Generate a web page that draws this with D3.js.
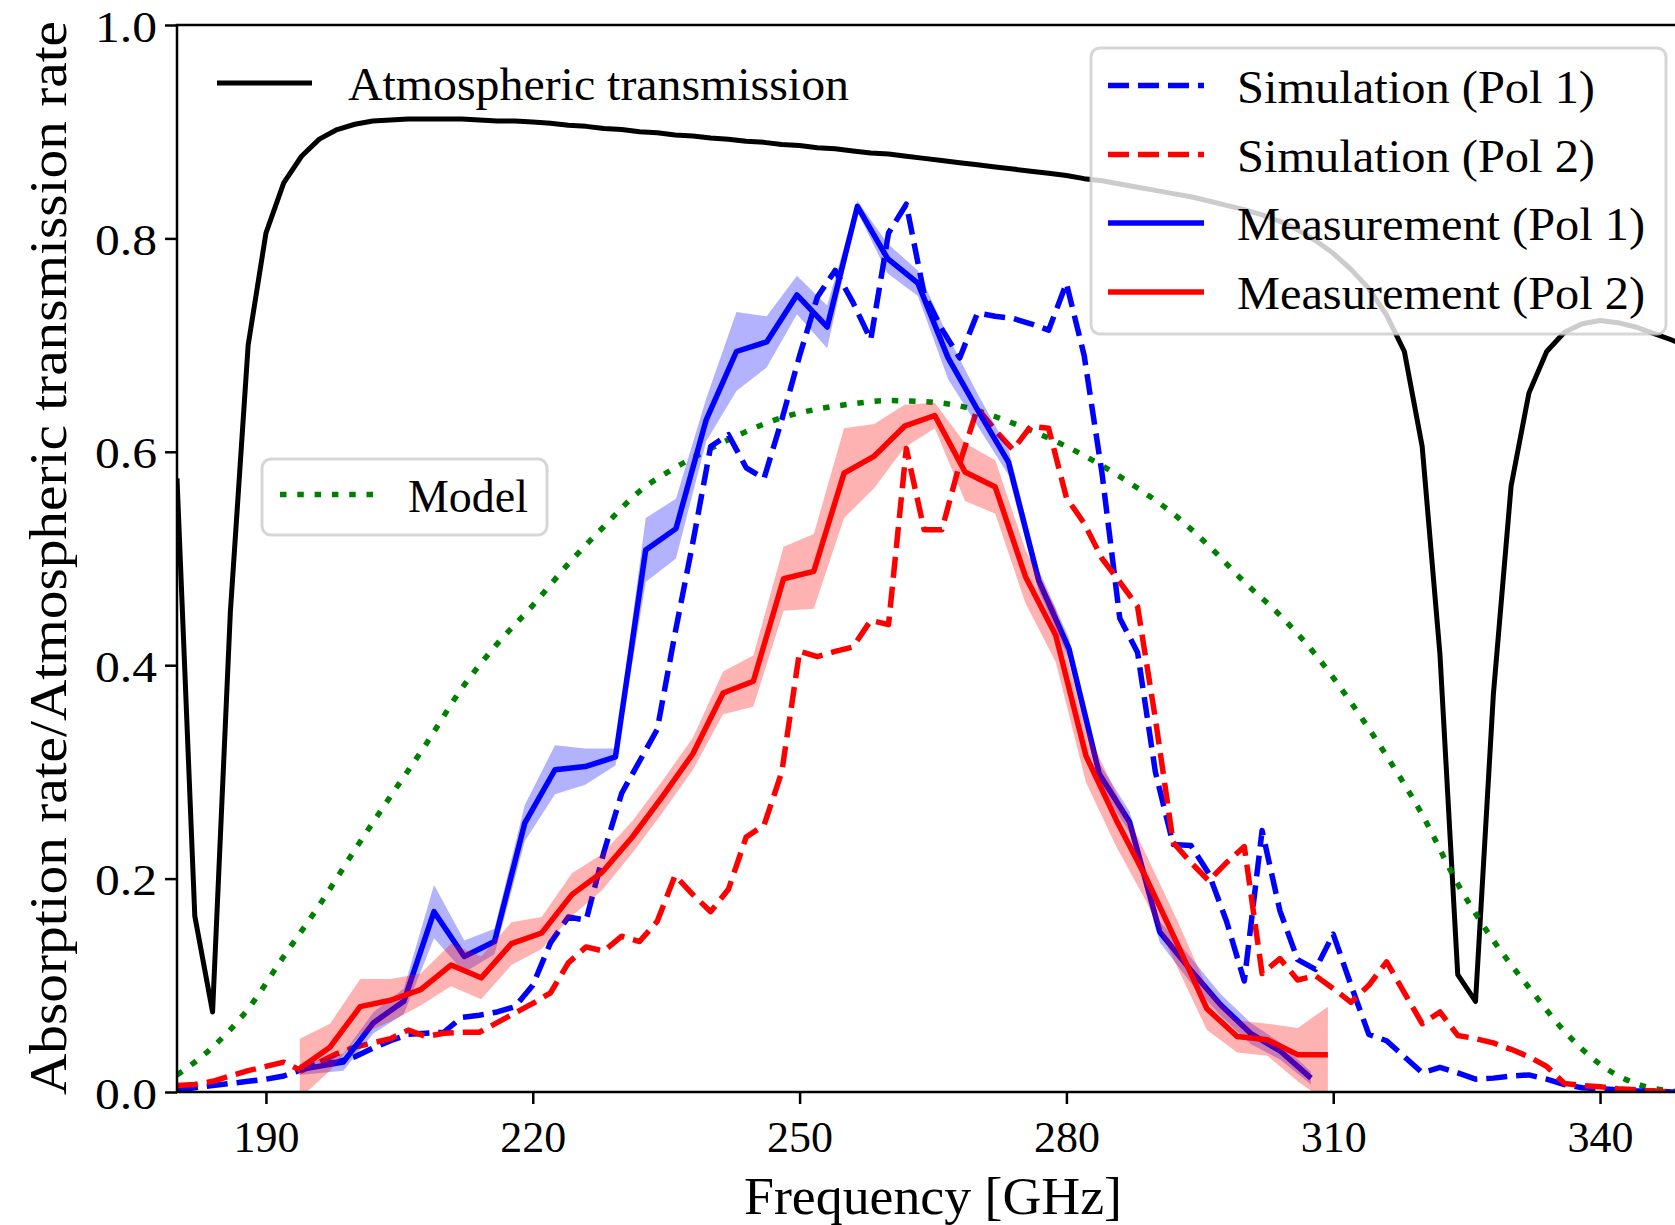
<!DOCTYPE html>
<html><head><meta charset="utf-8">
<script src="https://cdn.jsdelivr.net/npm/d3@7"></script>
<style>
body{margin:0;background:#fff}
svg{display:block}
text{font-family:"Liberation Serif","DejaVu Serif",serif;fill:#000}
</style>
</head><body>
<svg id="chart" width="1675" height="1225"></svg>
<script>
// ---------------- DATA ----------------
const freqGrid = [180,182,184,186,188,190,192,194,196,198,200,202,204,206,208,210,212,214,216,218,220,222,224,226,228,230,232,234,236,238,240,242,244,246,248,250,252,254,256,258,260,262,264,266,268,270,272,274,276,278,280,282,284,286,288,290,292,294,296,298,300,302,304,306,308,310,312,314,316,318,320,322,324,326,328,330,332,334,336,338,340,342,344,346,348,350];

const atmTransmission = [0.575,0.165,0.075,0.45,0.70,0.805,0.852,0.877,0.893,0.902,0.907,0.910,0.911,0.912,0.912,0.912,0.912,0.911,0.910,0.910,0.909,0.908,0.906,0.905,0.903,0.902,0.900,0.899,0.897,0.896,0.894,0.893,0.891,0.890,0.888,0.887,0.885,0.884,0.882,0.880,0.879,0.877,0.875,0.873,0.871,0.869,0.867,0.865,0.863,0.861,0.859,0.856,0.854,0.851,0.848,0.845,0.842,0.839,0.835,0.831,0.827,0.822,0.816,0.808,0.798,0.786,0.771,0.753,0.728,0.694,0.605,0.41,0.11,0.085,0.372,0.568,0.655,0.694,0.712,0.72,0.723,0.721,0.717,0.711,0.705,0.698];

const simPol1 = [0.002,0.004,0.006,0.008,0.010,0.012,0.015,0.021,0.027,0.028,0.033,0.041,0.048,0.054,0.055,0.056,0.070,0.072,0.075,0.080,0.100,0.140,0.164,0.161,0.225,0.280,0.310,0.340,0.430,0.515,0.605,0.616,0.585,0.575,0.630,0.690,0.745,0.770,0.740,0.705,0.805,0.832,0.748,0.715,0.688,0.730,0.727,0.725,0.720,0.714,0.758,0.690,0.580,0.444,0.412,0.300,0.232,0.231,0.205,0.160,0.104,0.245,0.170,0.124,0.115,0.148,0.100,0.054,0.048,0.033,0.018,0.023,0.018,0.012,0.013,0.015,0.016,0.012,0.007,0.004,0.003,0.002,0.001,0.001,0.000,0.000];

const simPol2 = [0.006,0.007,0.010,0.015,0.020,0.024,0.028,0.020,0.028,0.036,0.042,0.046,0.050,0.058,0.052,0.055,0.056,0.056,0.065,0.074,0.083,0.093,0.121,0.136,0.132,0.146,0.141,0.160,0.203,0.185,0.169,0.190,0.239,0.250,0.300,0.413,0.408,0.413,0.417,0.442,0.438,0.603,0.527,0.527,0.589,0.641,0.620,0.602,0.624,0.622,0.557,0.533,0.500,0.478,0.455,0.350,0.234,0.215,0.198,0.215,0.230,0.111,0.125,0.105,0.109,0.097,0.084,0.100,0.122,0.093,0.064,0.075,0.053,0.050,0.046,0.040,0.033,0.024,0.008,0.006,0.005,0.003,0.002,0.001,0.000,0.000];

const freqModel = [180,184,188,192,196,200,204,208,212,216,220,224,228,232,236,240,244,248,252,256,260,264,268,272,276,280,284,288,292,296,300,304,308,312,316,320,324,328,332,336,340,344,348,350];
const modelValues = [0.016,0.042,0.078,0.127,0.175,0.227,0.277,0.326,0.378,0.420,0.456,0.495,0.530,0.563,0.585,0.603,0.619,0.632,0.640,0.645,0.648,0.647,0.643,0.633,0.620,0.605,0.587,0.566,0.542,0.512,0.478,0.447,0.410,0.365,0.315,0.260,0.195,0.142,0.098,0.057,0.026,0.008,0.001,0.000];

const freqMeas1 = [193.8,198.7,202.1,205.5,208.9,212.3,215.7,219.1,222.5,225.9,229.3,232.7,236.1,239.5,242.9,246.3,249.7,253.1,256.5,259.9,263.3,266.7,270.1,273.5,276.9,280.3,283.7,287.1,290.5,293.9,297.3,300.7,304.1,307.5];
const measPol1 = [0.021,0.028,0.065,0.085,0.169,0.127,0.141,0.252,0.302,0.305,0.314,0.508,0.528,0.630,0.694,0.703,0.747,0.717,0.830,0.781,0.758,0.688,0.638,0.590,0.479,0.415,0.298,0.253,0.150,0.115,0.082,0.055,0.038,0.013];
const errPol1 = [0.005,0.008,0.010,0.012,0.025,0.015,0.012,0.017,0.023,0.017,0.008,0.030,0.028,0.020,0.037,0.024,0.018,0.020,0.005,0.014,0.012,0.020,0.015,0.012,0.010,0.010,0.010,0.010,0.010,0.012,0.010,0.010,0.008,0.006];

const freqMeas2 = [193.8,197.2,200.6,204.0,207.4,210.8,214.2,217.6,221.0,224.4,227.8,231.2,234.6,238.0,241.4,244.8,248.2,251.6,255.0,258.4,261.8,265.2,268.6,272.0,275.4,278.8,282.2,285.6,289.0,292.4,295.8,299.2,302.6,306.0,309.4];
const measPol2 = [0.022,0.042,0.080,0.086,0.096,0.119,0.107,0.139,0.149,0.185,0.206,0.239,0.277,0.317,0.374,0.385,0.481,0.488,0.580,0.596,0.624,0.634,0.581,0.567,0.483,0.428,0.315,0.255,0.200,0.140,0.078,0.052,0.049,0.035,0.035];
const errPol2 = [0.028,0.022,0.026,0.020,0.015,0.020,0.020,0.020,0.015,0.020,0.017,0.015,0.015,0.015,0.020,0.024,0.030,0.035,0.042,0.030,0.020,0.012,0.027,0.025,0.025,0.025,0.025,0.025,0.022,0.022,0.020,0.015,0.015,0.025,0.045];

const xTicks = [190,220,250,280,310,340];
const yTicks = [0.0,0.2,0.4,0.6,0.8,1.0];
const xLabel = "Frequency [GHz]";
const yLabel = "Absorption rate/Atmospheric transmission rate";
const legendTopLeft = ["Atmospheric transmission"];
const legendTopRight = ["Simulation (Pol 1)","Simulation (Pol 2)","Measurement (Pol 1)","Measurement (Pol 2)"];
const legendModel = ["Model"];

// ---------------- LAYOUT ----------------
const M = {left:177, top:25, right:1689, bottom:1092};
const x = d3.scaleLinear().domain([180,350]).range([M.left, M.right]);
const y = d3.scaleLinear().domain([0,1]).range([M.bottom, M.top]);

const BLUE="#0000ff", RED="#ff0000", GREEN="#008000";
const LW=5.5;
const DASH="21,9", DOT="6.5,10.8";
const TICKFONT="45px";

const svg = d3.select("#chart");
svg.append("defs").append("clipPath").attr("id","plotclip")
  .append("rect").attr("x",M.left).attr("y",M.top)
  .attr("width",M.right-M.left).attr("height",M.bottom-M.top);

const plot = svg.append("g").attr("clip-path","url(#plotclip)");
const zip = (xs, ys) => xs.map((f,i)=>[f, ys[i]]);
const line = d3.line().x(d=>x(d[0])).y(d=>y(d[1]));
const smooth = d3.line().x(d=>x(d[0])).y(d=>y(d[1])).curve(d3.curveMonotoneX);
const band = d3.area().x(d=>x(d[0])).y0(d=>y(d[1]-d[2])).y1(d=>y(d[1]+d[2]));

function path(g, d, gen, color, w, dash){
  const p = g.append("path").attr("d", gen(d)).attr("fill","none")
    .attr("stroke",color).attr("stroke-width",w)
    .attr("stroke-linejoin","round");
  if(dash) p.attr("stroke-dasharray",dash); else p.attr("stroke-linecap","butt");
  return p;
}

// atmospheric transmission
path(plot, zip(freqGrid, atmTransmission), line, "#000", 5);
// model
path(plot, zip(freqModel, modelValues), smooth, GREEN, LW, DOT);
// simulations
path(plot, zip(freqGrid, simPol1), line, BLUE, LW, DASH);
path(plot, zip(freqGrid, simPol2), line, RED, LW, DASH);
// measurement pol 1
plot.append("path").attr("d", band(freqMeas1.map((f,i)=>[f,measPol1[i],errPol1[i]])))
  .attr("fill",BLUE).attr("fill-opacity",0.3).attr("stroke","none");
path(plot, zip(freqMeas1, measPol1), line, BLUE, LW);
// measurement pol 2
plot.append("path").attr("d", band(freqMeas2.map((f,i)=>[f,measPol2[i],errPol2[i]])))
  .attr("fill",RED).attr("fill-opacity",0.3).attr("stroke","none");
path(plot, zip(freqMeas2, measPol2), line, RED, LW);

// ---------------- AXES ----------------
const xAxis = svg.append("g").attr("transform",`translate(0,${M.bottom})`)
  .call(d3.axisBottom(x).tickValues(xTicks).tickSize(12).tickFormat(d3.format("d")));
xAxis.select(".domain").remove();
xAxis.selectAll(".tick line").attr("stroke","#000").attr("stroke-width",2.5);
xAxis.selectAll(".tick text").attr("y",60).attr("dy",null)
  .attr("textLength",66).attr("lengthAdjust","spacingAndGlyphs")
  .style("font-size",TICKFONT).style("font-family",'"Liberation Serif",serif');

const yAxis = svg.append("g").attr("transform",`translate(${M.left},0)`)
  .call(d3.axisLeft(y).tickValues(yTicks).tickSize(12).tickFormat(d3.format(".1f")));
yAxis.select(".domain").remove();
yAxis.selectAll(".tick line").attr("stroke","#000").attr("stroke-width",2.5);
yAxis.selectAll(".tick text").attr("x",-20).attr("dy",null).attr("y",16)
  .attr("textLength",62).attr("lengthAdjust","spacingAndGlyphs")
  .style("font-size",TICKFONT).style("font-family",'"Liberation Serif",serif');

// spines
svg.append("rect").attr("x",M.left).attr("y",M.top)
  .attr("width",M.right-M.left).attr("height",M.bottom-M.top)
  .attr("fill","none").attr("stroke","#000").attr("stroke-width",2.5);

// axis labels
svg.append("text").attr("x",933).attr("y",1214).attr("text-anchor","middle")
  .attr("textLength",378).attr("lengthAdjust","spacingAndGlyphs")
  .style("font-size","52px").text(xLabel);
svg.append("text").attr("transform","translate(66,558) rotate(-90)")
  .attr("text-anchor","middle")
  .attr("textLength",1074).attr("lengthAdjust","spacingAndGlyphs")
  .style("font-size","52px").text(yLabel);

// ---------------- LEGENDS ----------------
function frame(x0,y0,x1,y1){
  svg.append("rect").attr("x",x0).attr("y",y0).attr("width",x1-x0).attr("height",y1-y0)
    .attr("rx",9).attr("ry",9)
    .attr("fill","#fff").attr("fill-opacity",0.8)
    .attr("stroke","#cccccc").attr("stroke-opacity",0.8).attr("stroke-width",3);
}
function entry(lx0,lx1,cy,color,dash,label,tx,tlen){
  const l = svg.append("line").attr("x1",lx0).attr("x2",lx1).attr("y1",cy).attr("y2",cy)
    .attr("stroke",color).attr("stroke-width",color==="#000"?5:LW);
  if(dash) l.attr("stroke-dasharray",dash);
  svg.append("text").attr("x",tx).attr("y",cy+17)
    .attr("textLength",tlen).attr("lengthAdjust","spacingAndGlyphs")
    .style("font-size","47px").text(label);
}
// top-left (no frame)
entry(217,312,83,"#000",null,legendTopLeft[0],348,501);
// top-right
frame(1091,48,1666,334);
const trRows=[85.5,154.5,223,292];
const trStyles=[[BLUE,DASH],[RED,DASH],[BLUE,null],[RED,null]];
const trLens=[358,358,408,408];
legendTopRight.forEach((lab,i)=>entry(1108,1204,trRows[i],trStyles[i][0],trStyles[i][1],lab,1237,trLens[i]));
// model
frame(262,459,547,535);
entry(280,373,494.5,GREEN,DOT,legendModel[0],408,120);
</script>
</body></html>
